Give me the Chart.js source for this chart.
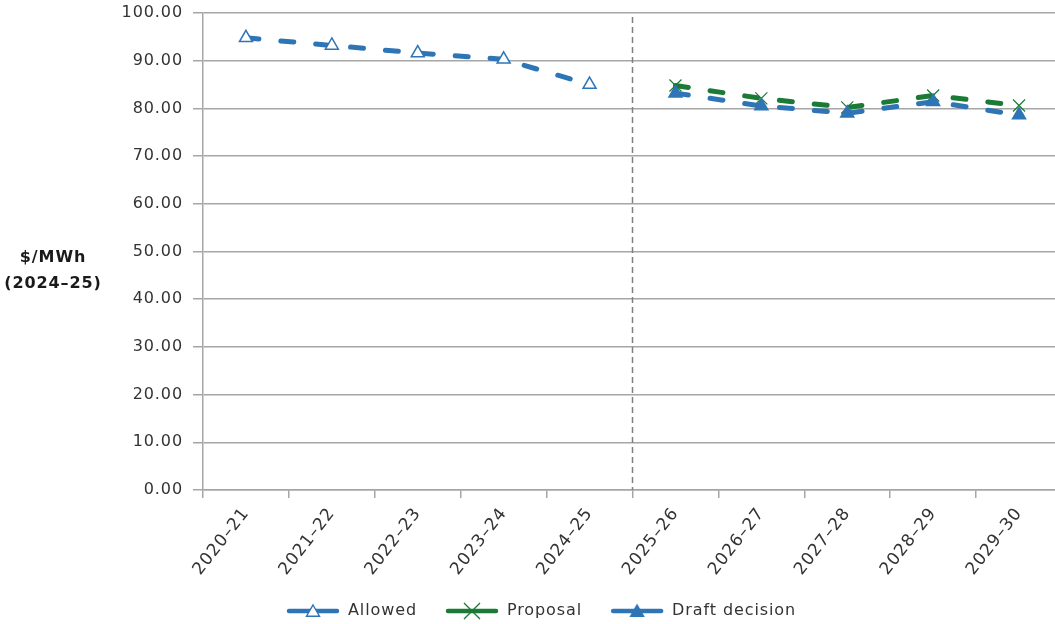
<!DOCTYPE html>
<html>
<head>
<meta charset="utf-8">
<title>Price path $/MWh (2024–25)</title>
<script src="https://cdn.jsdelivr.net/npm/chart.js@4.4.1/dist/chart.umd.min.js"></script>
<style>
  html, body { margin: 0; padding: 0; background: #ffffff; overflow: hidden; }
  #wrap { width: 1062px; height: 624px; }
</style>
</head>
<body>
<div id="wrap"><canvas id="chart" width="1062" height="624"></canvas></div>
<script>
// Financial years on the category axis
const years = ['2020–21', '2021–22', '2022–23', '2023–24', '2024–25',
               '2025–26', '2026–27', '2027–28', '2028–29', '2029–30'];

// $/MWh in 2024–25 dollars
const allowed  = [94.8, 93.2, 91.6, 90.3, 85.0, null, null, null, null, null];
const proposal = [null, null, null, null, null, 84.8, 82.1, 80.2, 82.7, 80.6];
const draft    = [null, null, null, null, null, 83.2, 80.5, 79.0, 81.4, 78.6];

// y axis ticks
const yMin = 0, yMax = 100, yStep = 10;

const seriesNames = ['Allowed', 'Proposal', 'Draft decision'];
const axisTitleLines = ['$/MWh', '(2024–25)'];

const BLUE = '#2e75b6';
const GREEN = '#1b7a35';
const FONT = "'DejaVu Sans', sans-serif";
const TEXT = '#333333';
const GRID = '#a6a6a6';
const SPACING = '0.9px';
const LEFT_PAD = 20;
const TOP = 13;

// Small legend swatch: a short line with the series marker in the middle
function swatch(color, marker) {
  const c = document.createElement('canvas');
  c.width = 54; c.height = 20;
  const g = c.getContext('2d');
  g.strokeStyle = color; g.lineWidth = 4.5; g.lineCap = 'round';
  g.beginPath(); g.moveTo(3, 10); g.lineTo(51, 10); g.stroke();
  const cx = 27, cy = 10;
  if (marker === 'cross') {
    const r = 8;
    g.lineWidth = 1.3; g.lineCap = 'butt';
    g.beginPath();
    g.moveTo(cx - r, cy - r); g.lineTo(cx + r, cy + r);
    g.moveTo(cx + r, cy - r); g.lineTo(cx - r, cy + r);
    g.stroke();
  } else {
    const r = 7.5;
    g.beginPath();
    for (let i = 0; i < 3; i++) {
      const a = i * 2 * Math.PI / 3;
      const px = cx + Math.sin(a) * r, py = cy + 1.5 - Math.cos(a) * r;
      if (i === 0) g.moveTo(px, py); else g.lineTo(px, py);
    }
    g.closePath();
    g.fillStyle = marker === 'hollow' ? '#ffffff' : color;
    g.fill();
    g.lineWidth = 1.4; g.strokeStyle = color; g.stroke();
  }
  return c;
}
const swatches = [swatch(BLUE, 'hollow'), swatch(GREEN, 'cross'), swatch(BLUE, 'filled')];

// Slightly open letter spacing for all chart text
const spacing = {
  id: 'spacing',
  beforeUpdate(chart) { chart.ctx.letterSpacing = SPACING; },
  beforeLayout(chart) { chart.ctx.letterSpacing = SPACING; },
  beforeDraw(chart) { chart.ctx.letterSpacing = SPACING; }
};

// Dashed divider between actual and forecast years, plus the horizontal y title
const extras = {
  id: 'extras',
  beforeDatasetsDraw(chart) {
    const x = chart.scales.x;
    const area = chart.chartArea;
    const px = (x.getPixelForValue(4) + x.getPixelForValue(5)) / 2;
    const g = chart.ctx;
    g.save();
    g.strokeStyle = '#7f7f7f';
    g.lineWidth = 1.5;
    g.setLineDash([6, 4]);
    g.beginPath();
    g.moveTo(px, area.top + 4);
    g.lineTo(px, area.bottom);
    g.stroke();
    g.restore();
  },
  afterDraw(chart) {
    const g = chart.ctx;
    g.save();
    g.font = 'bold 16px ' + FONT;
    g.fillStyle = '#1a1a1a';
    g.textAlign = 'center';
    g.textBaseline = 'middle';
    g.fillText(axisTitleLines[0], 53, 258);
    g.fillText(axisTitleLines[1], 53, 284);
    g.restore();
  }
};

const lineStyle = {
  borderWidth: 5,
  borderDash: [13, 22],
  borderCapStyle: 'round',
  tension: 0,
  fill: false,
  spanGaps: false,
  pointRadius: 7.5,
  pointHoverRadius: 7.5
};

new Chart(document.getElementById('chart'), {
  type: 'line',
  data: {
    labels: years,
    datasets: [
      Object.assign({}, lineStyle, {
        label: seriesNames[0], data: allowed, order: 0,
        borderColor: BLUE, pointStyle: 'triangle',
        pointBackgroundColor: '#ffffff', pointBorderColor: BLUE, pointBorderWidth: 1.5
      }),
      Object.assign({}, lineStyle, {
        label: seriesNames[1], data: proposal, order: 2,
        borderColor: GREEN, pointStyle: 'crossRot', pointRadius: 8.5,
        pointBackgroundColor: GREEN, pointBorderColor: GREEN, pointBorderWidth: 1.2
      }),
      Object.assign({}, lineStyle, {
        label: seriesNames[2], data: draft, order: 1,
        borderColor: BLUE, pointStyle: 'triangle',
        pointBackgroundColor: BLUE, pointBorderColor: BLUE, pointBorderWidth: 1.5
      })
    ]
  },
  options: {
    responsive: false,
    animation: false,
    devicePixelRatio: 1,
    layout: {
      autoPadding: false,
      padding: { top: TOP, left: LEFT_PAD, right: 0, bottom: -5 }
    },
    plugins: {
      title: { display: false },
      tooltip: { enabled: false },
      legend: {
        position: 'bottom',
        align: 'center',
        labels: {
          usePointStyle: true,
          pointStyleWidth: 54,
          boxHeight: 16,
          padding: 28,
          color: TEXT,
          font: { family: FONT, size: 16 },
          generateLabels(chart) {
            return chart.data.datasets.map((ds, i) => ({
              text: ds.label,
              datasetIndex: i,
              pointStyle: swatches[i],
              fillStyle: ds.borderColor,
              strokeStyle: ds.borderColor,
              lineWidth: 0,
              hidden: !chart.isDatasetVisible(i),
              fontColor: TEXT
            }));
          }
        }
      }
    },
    scales: {
      x: {
        type: 'category',
        offset: true,
        grid: {
          offset: true,
          drawOnChartArea: false,
          drawTicks: true,
          tickLength: 8,
          color: GRID,
          lineWidth: 1.5
        },
        border: { color: GRID, width: 1.5 },
        ticks: {
          color: TEXT,
          font: { family: FONT, size: 17 },
          minRotation: 52,
          maxRotation: 52,
          autoSkip: false,
          padding: 6
        },
        afterFit(s) { s.height = 85; }
      },
      y: {
        min: yMin,
        max: yMax,
        grid: {
          color: GRID,
          lineWidth: 1.5,
          drawTicks: true,
          tickLength: 10
        },
        border: { color: GRID, width: 1.5 },
        ticks: {
          stepSize: yStep,
          color: TEXT,
          font: { family: FONT, size: 16 },
          padding: 10,
          callback: v => Number(v).toFixed(2)
        },
        afterFit(s) {
          s.width = 203 - LEFT_PAD;
          s.paddingTop = TOP;
        }
      }
    }
  },
  plugins: [spacing, extras]
});
</script>
</body>
</html>
